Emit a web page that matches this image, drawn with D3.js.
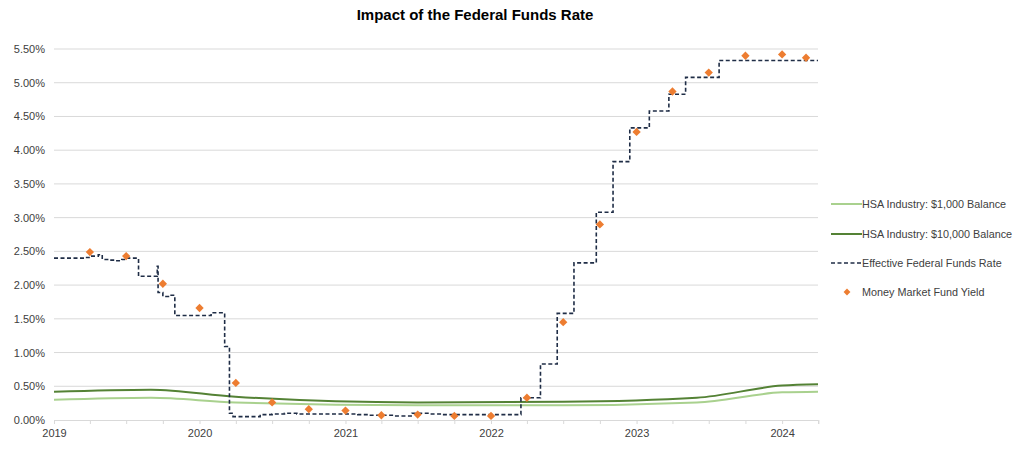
<!DOCTYPE html>
<html><head><meta charset="utf-8">
<script src="https://cdn.jsdelivr.net/npm/d3@7"></script>
<style>body{margin:0;background:#fff;} svg{display:block;font-family:"Liberation Sans",Arial,sans-serif;}</style>
</head><body>
<svg id="chart" width="1024" height="450"></svg>
<script>
// ---- Data ----
const title = "Impact of the Federal Funds Rate";
const yTicks = [0, 0.5, 1, 1.5, 2, 2.5, 3, 3.5, 4, 4.5, 5, 5.5];
const xYearLabels = ["2019", "2020", "2021", "2022", "2023", "2024"];

// Effective Federal Funds Rate (step changes)
const effrDates = ["2019-01-01","2019-03-20","2019-04-01","2019-04-22","2019-05-02","2019-05-20","2019-06-03","2019-06-20","2019-07-01","2019-08-01","2019-09-17","2019-09-19","2019-10-01","2019-10-15","2019-10-31","2020-01-30","2020-03-04","2020-03-16","2020-03-25","2020-06-01","2020-07-01","2020-08-01","2020-09-01","2021-02-01","2021-03-01","2021-05-01","2021-06-17","2021-08-01","2021-09-01","2022-03-17","2022-05-05","2022-06-16","2022-07-28","2022-09-22","2022-11-03","2022-12-15","2023-02-02","2023-03-23","2023-05-04","2023-07-27","2024-03-31"];
const effrValues = [2.40,2.41,2.43,2.45,2.38,2.37,2.36,2.38,2.40,2.13,2.28,1.89,1.83,1.85,1.55,1.59,1.09,0.10,0.05,0.08,0.09,0.10,0.09,0.08,0.07,0.06,0.10,0.09,0.08,0.33,0.83,1.58,2.33,3.08,3.83,4.33,4.58,4.83,5.08,5.33,5.33];

// Money Market Fund Yield
const mmfDates = ["2019-04-01","2019-07-01","2019-10-01","2020-01-01","2020-04-01","2020-07-01","2020-10-01","2021-01-01","2021-04-01","2021-07-01","2021-10-01","2022-01-01","2022-04-01","2022-07-01","2022-10-01","2023-01-01","2023-04-01","2023-07-01","2023-10-01","2024-01-01","2024-03-01"];
const mmfValues = [2.49,2.43,2.02,1.66,0.55,0.26,0.16,0.14,0.07,0.08,0.06,0.06,0.33,1.45,2.90,4.27,4.87,5.15,5.40,5.42,5.37];

// HSA Industry series
const hsaDates = ["2019-01-01","2019-09-01","2020-03-31","2021-06-30","2022-06-30","2023-06-01","2024-01-01","2024-03-31"];
const hsa1kValues = [0.30,0.33,0.26,0.22,0.22,0.26,0.41,0.42];
const hsa10kValues = [0.42,0.45,0.345,0.26,0.27,0.33,0.51,0.53];

const legendLabels = ["HSA Industry: $1,000 Balance","HSA Industry: $10,000 Balance","Effective Federal Funds Rate","Money Market Fund Yield"];

// ---- Chart ----
const parse = d3.timeParse("%Y-%m-%d");
const svg = d3.select("#chart");
const m = {left:54, right:818, top:49, bottom:420};

const x = d3.scaleTime().domain([parse("2019-01-01"), parse("2024-03-31")]).range([m.left, m.right]);
const y = d3.scaleLinear().domain([0, 5.5]).range([m.bottom, m.top]);

svg.append("text").attr("x", 475).attr("y", 20).attr("text-anchor","middle")
  .attr("font-size", 15).attr("font-weight","bold").attr("fill","#000").text(title);

// gridlines
svg.append("g").selectAll("line").data(yTicks.filter(d=>d>0)).join("line")
  .attr("x1", m.left).attr("x2", m.right)
  .attr("y1", d=>y(d)).attr("y2", d=>y(d))
  .attr("stroke","#d9d9d9").attr("stroke-width",1);

// y axis labels
const yAxis = d3.axisLeft(y).tickValues(yTicks).tickSize(0).tickPadding(9).tickFormat(d=>d.toFixed(2)+"%");
const gy = svg.append("g").attr("transform",`translate(${m.left},0)`).call(yAxis);
gy.select(".domain").remove();
gy.selectAll("text").attr("font-size",11).attr("fill","#404040").attr("font-family","Liberation Sans, Arial, sans-serif");

// x axis
const quarterTicks = d3.timeMonth.every(3).range(parse("2019-01-01"), parse("2024-04-02"));
const xAxis = d3.axisBottom(x).tickValues(quarterTicks).tickSize(4).tickFormat(d=>{
  const yr = d3.timeFormat("%Y")(d);
  return (d.getMonth()===0 && xYearLabels.includes(yr)) ? yr : "";
});
const gx = svg.append("g").attr("transform",`translate(0,${m.bottom})`).call(xAxis);
gx.select(".domain").attr("stroke","#d9d9d9");
gx.selectAll(".tick line").attr("stroke","#d9d9d9");
gx.selectAll("text").attr("font-size",11).attr("fill","#404040").attr("dy","0.9em").attr("font-family","Liberation Sans, Arial, sans-serif");

// HSA lines
const smooth = d3.line().x(d=>x(d[0])).y(d=>y(d[1])).curve(d3.curveMonotoneX);
const hsa1k = hsaDates.map((d,i)=>[parse(d), hsa1kValues[i]]);
const hsa10k = hsaDates.map((d,i)=>[parse(d), hsa10kValues[i]]);
svg.append("path").datum(hsa1k).attr("d",smooth).attr("fill","none").attr("stroke","#a9d18e").attr("stroke-width",2);
svg.append("path").datum(hsa10k).attr("d",smooth).attr("fill","none").attr("stroke","#548235").attr("stroke-width",2);

// EFFR step line
const effr = effrDates.map((d,i)=>[parse(d), effrValues[i]]);
const step = d3.line().x(d=>x(d[0])).y(d=>y(d[1])).curve(d3.curveStepAfter);
svg.append("path").datum(effr).attr("d",step).attr("fill","none").attr("stroke","#1f2d46")
  .attr("stroke-width",1.6).attr("stroke-dasharray","4,2.5");

// MMF diamonds
const mmf = mmfDates.map((d,i)=>[parse(d), mmfValues[i]]);
const diamond = d3.symbol().type(d3.symbolDiamond2).size(44);
svg.append("g").selectAll("path").data(mmf).join("path")
  .attr("transform", d=>`translate(${x(d[0])},${y(d[1])})`)
  .attr("d", diamond).attr("fill","#ed7d31");

// Legend
const lg = svg.append("g").attr("font-size",10.8).attr("fill","#404040");
const ly = [204, 234, 263, 292];
lg.append("line").attr("x1",831).attr("x2",862).attr("y1",ly[0]).attr("y2",ly[0]).attr("stroke","#a9d18e").attr("stroke-width",2);
lg.append("line").attr("x1",831).attr("x2",862).attr("y1",ly[1]).attr("y2",ly[1]).attr("stroke","#548235").attr("stroke-width",2);
lg.append("line").attr("x1",831).attr("x2",862).attr("y1",ly[2]).attr("y2",ly[2]).attr("stroke","#1f2d46").attr("stroke-width",1.6).attr("stroke-dasharray","4,2.5");
lg.append("path").attr("transform",`translate(847,${ly[3]})`).attr("d", d3.symbol().type(d3.symbolDiamond2).size(30)).attr("fill","#ed7d31");
lg.selectAll("text").data(legendLabels).join("text")
  .attr("x",(d,i)=> i===3 ? 862 : 862).attr("y",(d,i)=>ly[i]).attr("dy","0.35em")
  .attr("fill","#404040").text(d=>d);
</script>
</body></html>
